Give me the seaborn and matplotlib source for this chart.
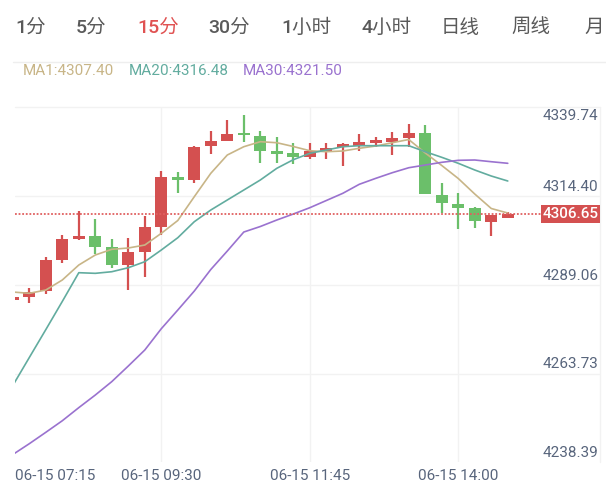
import pandas as pd
import matplotlib
matplotlib.use("Agg")
import matplotlib.pyplot as plt
from matplotlib.lines import Line2D
import seaborn as sns

# 15-minute candles, 06-15 07:15 .. 14:45
opens = [4282.22, 4282.85, 4284.64, 4293.39, 4299.45, 4300.31, 4297.09, 4292.13, 4295.75, 4302.95,
         4317.19, 4316.25, 4325.93, 4327.44, 4329.55, 4328.78, 4324.51, 4323.85, 4322.71, 4324.14,
         4325.73, 4326.02, 4326.70, 4327.16, 4328.12, 4329.55, 4311.98, 4309.33, 4308.19, 4304.38, 4305.52]
closes = [4282.79, 4284.27, 4293.47, 4299.37, 4300.31, 4297.17, 4292.13, 4295.66, 4302.78, 4317.19,
          4316.25, 4325.73, 4327.36, 4329.43, 4328.98, 4324.59, 4323.57, 4322.89, 4324.59, 4325.45,
          4326.42, 4327.16, 4327.64, 4328.12, 4329.55, 4312.18, 4309.62, 4308.36, 4304.66, 4306.20, 4306.65]
highs = [4283.00, 4285.58, 4294.41, 4300.50, 4307.51, 4305.06, 4299.37, 4299.65, 4306.00, 4318.90,
         4318.44, 4326.02, 4330.29, 4333.34, 4334.67, 4330.29, 4328.41, 4326.70, 4326.70, 4326.87,
         4326.87, 4329.35, 4328.41, 4330.00, 4332.20, 4331.91, 4315.48, 4312.63, 4308.65, 4306.20, 4307.14]
lows = [4282.00, 4281.14, 4283.71, 4292.70, 4299.17, 4295.18, 4291.11, 4284.93, 4288.72, 4300.59,
        4312.46, 4315.48, 4323.65, 4327.27, 4327.16, 4321.18, 4321.01, 4320.72, 4322.32, 4322.14,
        4320.24, 4324.59, 4325.73, 4323.37, 4325.56, 4312.18, 4306.94, 4302.21, 4302.50, 4300.31, 4305.52]

ma1 = [4284.36, 4283.99, 4284.93, 4287.78, 4292.05, 4294.90, 4296.52, 4296.89, 4297.74, 4301.07,
       4304.72, 4311.50, 4318.16, 4323.37, 4325.73, 4327.16, 4326.87, 4325.79, 4324.59, 4324.31,
       4324.51, 4325.28, 4325.93, 4326.87, 4327.78, 4323.94, 4320.38, 4316.68, 4312.26, 4308.14, 4306.85]
ma20 = [4257.74, 4265.71, 4273.65, 4281.68, 4289.86, 4289.68, 4290.14, 4291.28, 4292.99, 4296.32,
        4299.82, 4304.38, 4307.71, 4310.56, 4313.40, 4316.25, 4319.58, 4322.03, 4323.85, 4324.79,
        4325.73, 4326.02, 4326.02, 4326.02, 4326.02, 4324.31, 4322.71, 4321.01, 4319.10, 4317.39, 4315.97]
ma30 = [4238.09, 4241.17, 4244.41, 4247.71, 4251.44, 4255.03, 4258.85, 4263.29, 4267.85, 4273.91,
        4279.23, 4284.64, 4290.77, 4296.03, 4301.44, 4303.01, 4304.86, 4306.57, 4308.36, 4310.41,
        4312.46, 4315.03, 4316.73, 4318.33, 4319.75, 4320.52, 4321.29, 4321.86, 4321.95, 4321.46, 4321.01]

ma_labels = ["MA1:4307.40", "MA20:4316.48", "MA30:4321.50"]
price_ticks = [4339.74, 4314.40, 4289.06, 4263.73, 4238.39]
last_price = 4306.65
time_labels = ["06-15 07:15", "06-15 09:30", "06-15 11:45", "06-15 14:00"]
time_index = [0, 9, 18, 27]
tabs = ["1分", "5分", "15分", "30分", "1小时", "4小时", "日线", "周线", "月"]
active_tab = "15分"

RED = "#d45050"
GREEN = "#6bbf6a"
MA_COLORS = ["#c8b587", "#62ac9f", "#9a72cf"]
AXIS_TEXT = "#58657c"
GRID = "#f2f2f2"

sns.set_theme(style="white")
plt.rcParams["font.family"] = ["Roboto", "Noto Sans CJK SC", "DejaVu Sans"]

W, H = 606, 495
fig = plt.figure(figsize=(W / 100, H / 100), dpi=100)
fig.patch.set_facecolor("white")
ax = fig.add_axes([15 / W, 33 / H, 585 / W, 355 / H])
ax.set_facecolor("white")
for s in ax.spines.values():
    s.set_visible(False)

n = len(opens)
idx = list(range(n))
ax.set_xlim(0.133, 35.59)
ax.set_ylim(4235.96, 4337.04)

# grid (lines sit a little below the value labels in the original)
grid_off = 2.7
for v in price_ticks[1:]:
    ax.axhline(v - grid_off, color=GRID, lw=1, zorder=0)
ax.axhline(4337.04, color=GRID, lw=1, zorder=0, clip_on=False)
for i in time_index[1:]:
    ax.axvline(i, color=GRID, lw=1, zorder=0)
ax.axvline(35.59, color=GRID, lw=1, zorder=0, clip_on=False)

# candles
cols = [RED if c >= o else GREEN for o, c in zip(opens, closes)]
bottoms = [min(o, c) for o, c in zip(opens, closes)]
heights = [max(abs(c - o), 0.6) for o, c in zip(opens, closes)]
ax.vlines(idx, lows, highs, colors=cols, lw=1.6, zorder=2)
ax.bar(idx, heights, bottom=bottoms, width=0.72, color=cols, linewidth=0, zorder=3)

# moving averages
ma_df = pd.DataFrame({
    "idx": idx * 3,
    "value": ma1 + ma20 + ma30,
    "series": ["MA1"] * n + ["MA20"] * n + ["MA30"] * n,
})
sns.lineplot(data=ma_df, x="idx", y="value", hue="series", palette=MA_COLORS,
             linewidth=1.2, legend=False, sort=False, ax=ax, zorder=4)
ax.set_xlabel("")
ax.set_ylabel("")
ax.set_xticks([])
ax.set_yticks([])

# last price line + tag
ax.axhline(last_price, xmin=0, xmax=(543 - 15) / 585, color="#e06060", lw=1.3,
           ls=(0, (1, 1)), zorder=5)
ax.text(1 - 1.5 / 585, last_price, f"{last_price:.2f}", transform=ax.get_yaxis_transform(),
        ha="right", va="center", color="white", fontsize=11, fontweight="medium", zorder=6,
        bbox=dict(boxstyle="square,pad=0.12", fc=RED, ec="none"))

# price labels
for v in price_ticks:
    if v > ax.get_ylim()[1]:
        ax.annotate(f"{v:.2f}", xy=(1, ax.get_ylim()[1]), xycoords=ax.get_yaxis_transform(),
                    xytext=(-1.5, -9), textcoords="offset pixels",
                    ha="right", va="center", color=AXIS_TEXT, fontsize=11)
    else:
        ax.text(1 - 1.5 / 585, v, f"{v:.2f}", transform=ax.get_yaxis_transform(),
                ha="right", va="center", color=AXIS_TEXT, fontsize=11)

# time labels
for lab, i in zip(time_labels, time_index):
    first = i < ax.get_xlim()[0]
    ax.annotate(lab, xy=(max(i, ax.get_xlim()[0]), 0), xycoords=ax.get_xaxis_transform(),
                xytext=(0, -14.5), textcoords="offset pixels",
                ha="left" if first else "center", va="center",
                color=AXIS_TEXT, fontsize=11, annotation_clip=False)

# period tabs
tab_x = [15, 76, 137, 208, 281, 361, 441, 511, 584]
for t, x in zip(tabs, tab_x):
    fig.text(x / W, 1 - 28 / H, t, ha="left", va="center", fontsize=14, fontweight="medium",
             color="#e05252" if t == active_tab else "#5a5a5a")
fig.add_artist(Line2D([13 / W, 1], [1 - 62 / H, 1 - 62 / H], color="#eeeeee", lw=1))

# MA legend
for lab, x, c in zip(ma_labels, [22.7, 128.3, 243], MA_COLORS):
    fig.text(x / W, 1 - 71 / H, lab, ha="left", va="center", fontsize=11, color=c)

fig.savefig("out.png", dpi=100, facecolor="white")
